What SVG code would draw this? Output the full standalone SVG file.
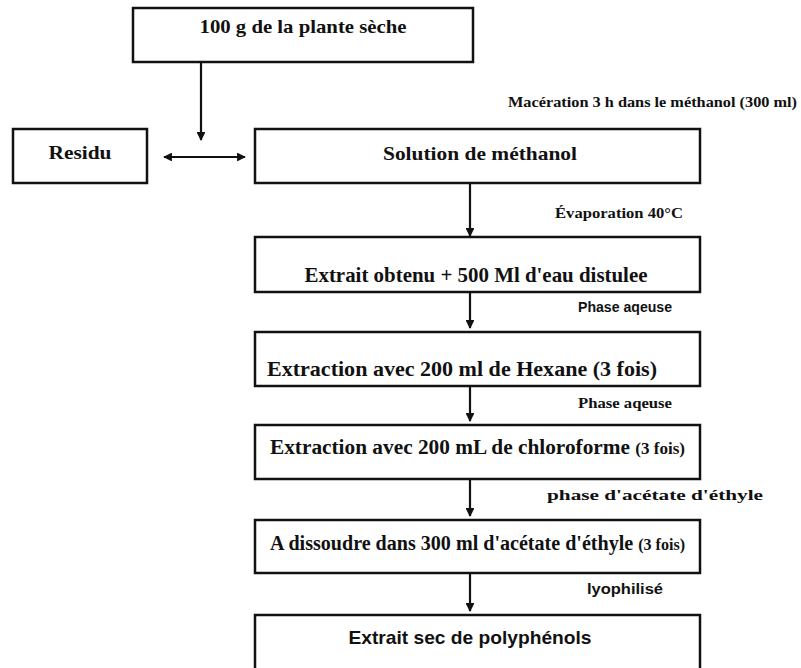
<svg xmlns="http://www.w3.org/2000/svg" width="801" height="668" viewBox="0 0 801 668">
<defs>
<marker id="ah" viewBox="0 0 10 10" refX="9" refY="5" markerWidth="4" markerHeight="4" orient="auto-start-reverse" markerUnits="strokeWidth">
<path d="M0,0 L10,5 L0,10 z" fill="#111"/>
</marker>
<style>
.box{fill:#fff;stroke:#111;stroke-width:2.5}
.c{stroke:#111;stroke-width:2.2;fill:none}
.s{font-family:"Liberation Serif","Times New Roman",serif;font-weight:bold;fill:#111}
.ss{font-family:"Liberation Sans",Arial,sans-serif;font-weight:bold;fill:#111}
</style>
</defs>
<rect width="801" height="668" fill="#fff"/>
<g id="connectors">
<line class="c" x1="201" y1="62" x2="201" y2="140" marker-end="url(#ah)"/>
<line class="c" x1="164" y1="157" x2="245" y2="157" marker-start="url(#ah)" marker-end="url(#ah)"/>
<line class="c" x1="470" y1="183" x2="470" y2="236" marker-end="url(#ah)"/>
<line class="c" x1="470" y1="292" x2="470" y2="328" marker-end="url(#ah)"/>
<line class="c" x1="470" y1="386" x2="470" y2="421" marker-end="url(#ah)"/>
<line class="c" x1="470" y1="479" x2="470" y2="516" marker-end="url(#ah)"/>
<line class="c" x1="470" y1="573" x2="470" y2="611" marker-end="url(#ah)"/>
<text class="s" x="508" y="107" font-size="15" textLength="289" lengthAdjust="spacingAndGlyphs">Macération 3 h dans le méthanol (300 ml)</text>
<text class="s" x="555" y="218" font-size="15" textLength="128" lengthAdjust="spacingAndGlyphs">Évaporation 40°C</text>
<text class="ss" x="578" y="312" font-size="14" textLength="94" lengthAdjust="spacingAndGlyphs">Phase aqeuse</text>
<text class="s" x="578" y="408" font-size="15" textLength="94" lengthAdjust="spacingAndGlyphs">Phase aqeuse</text>
<text class="s" x="547" y="500" font-size="15" textLength="216" lengthAdjust="spacingAndGlyphs">phase d'acétate d'éthyle</text>
<text class="ss" x="587" y="594" font-size="14" textLength="76" lengthAdjust="spacingAndGlyphs">lyophilisé</text>
</g>
<g id="n1">
<rect class="box" x="133" y="8" width="340" height="54"/>
<text class="s" x="303" y="33" font-size="19" text-anchor="middle" textLength="207" lengthAdjust="spacingAndGlyphs">100 g de la plante sèche</text>
</g>
<g id="residu">
<rect class="box" x="13" y="129" width="134" height="54"/>
<text class="s" x="80" y="159" font-size="19" text-anchor="middle" textLength="63" lengthAdjust="spacingAndGlyphs">Residu</text>
</g>
<g id="n2">
<rect class="box" x="255" y="129" width="445" height="54"/>
<text class="s" x="480" y="160" font-size="19" text-anchor="middle" textLength="194" lengthAdjust="spacingAndGlyphs">Solution de méthanol</text>
</g>
<g id="n3">
<rect class="box" x="255" y="237" width="445" height="55"/>
<text class="s" x="476" y="282" font-size="21" text-anchor="middle" textLength="343" lengthAdjust="spacingAndGlyphs">Extrait obtenu + 500 Ml d'eau distulee</text>
</g>
<g id="n4">
<rect class="box" x="255" y="332" width="445" height="54"/>
<text class="s" x="462" y="376" font-size="21" text-anchor="middle" textLength="390" lengthAdjust="spacingAndGlyphs">Extraction avec 200 ml de Hexane (3 fois)</text>
</g>
<g id="n5">
<rect class="box" x="255" y="425" width="445" height="54"/>
<text class="s" x="270" y="454" font-size="20" textLength="415" lengthAdjust="spacingAndGlyphs">Extraction avec 200 mL de chloroforme <tspan font-size="16">(3 fois)</tspan></text>
</g>
<g id="n6">
<rect class="box" x="255" y="520" width="445" height="53"/>
<text class="s" x="270" y="550" font-size="20" textLength="415" lengthAdjust="spacingAndGlyphs">A dissoudre dans 300 ml d'acétate d'éthyle <tspan font-size="16">(3 fois)</tspan></text>
</g>
<g id="n7">
<rect class="box" x="255" y="615" width="445" height="60"/>
<text class="ss" x="470" y="644" font-size="19" text-anchor="middle" textLength="243" lengthAdjust="spacingAndGlyphs">Extrait sec de polyphénols</text>
</g>
</svg>
